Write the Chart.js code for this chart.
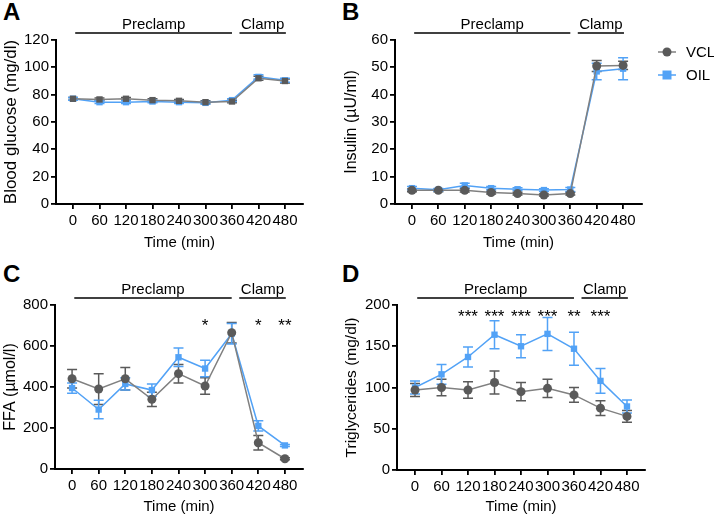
<!DOCTYPE html>
<html>
<head>
<meta charset="utf-8">
<script src="https://cdn.jsdelivr.net/npm/chart.js@4/dist/chart.umd.min.js"></script>
<style>
  body { margin: 0; background: #fff; width: 714px; height: 514px; position: relative; overflow: hidden;
         font-family: "Liberation Sans", Arial, sans-serif; }
  canvas { position: absolute; }
  .letter { position: absolute; font-weight: bold; font-size: 24px; line-height: 24px; color: #000; }
</style>
</head>
<body>
<div class="letter" style="left:3px;top:0px">A</div>
<div class="letter" style="left:342px;top:0px">B</div>
<div class="letter" style="left:3px;top:262px">C</div>
<div class="letter" style="left:342px;top:262px">D</div>

<canvas id="chartA" width="340" height="257" style="left:0;top:0"></canvas>
<canvas id="chartB" width="374" height="257" style="left:340px;top:0"></canvas>
<canvas id="chartC" width="340" height="257" style="left:0;top:257px"></canvas>
<canvas id="chartD" width="374" height="257" style="left:340px;top:257px"></canvas>

<script>
// time points (min)
const timeLabels = [0, 60, 120, 180, 240, 300, 360, 420, 480];
const seriesNames = ['VCL', 'OIL'];

// A - blood glucose (mg/dl)
const glucoseVCL    = [77, 76.5, 77, 76, 75.5, 74.5, 75, 92, 90];
const glucoseVCLErr = [1, 1, 1, 1, 1, 1, 1, 1.5, 1.5];
const glucoseOIL    = [77, 74.5, 74.5, 75, 74.5, 74, 76, 93, 90.5];
const glucoseOILErr = [1, 1, 1, 1, 1, 1, 1, 1.5, 1.5];

// B - insulin (µU/ml)
const insulinVCL    = [5, 5, 5, 4.2, 3.8, 3.3, 3.8, 50.5, 50.7];
const insulinVCLErr = [0.5, 0.5, 0.6, 0.5, 0.5, 0.4, 0.5, 2, 1.5];
const insulinOIL    = [5.8, 5.2, 6.8, 5.8, 5.4, 5.1, 5.3, 48.5, 49.5];
const insulinOILErr = [0.6, 0.5, 0.8, 0.6, 0.5, 0.5, 0.7, 3, 4];

// C - FFA (µmol/l)
const ffaVCL    = [440, 390, 440, 340, 465, 405, 665, 128, 50];
const ffaVCLErr = [45, 75, 55, 35, 45, 40, 50, 35, 5];
const ffaOIL    = [395, 290, 415, 385, 545, 490, 660, 210, 115];
const ffaOILErr = [25, 45, 30, 30, 45, 40, 50, 25, 5];
const ffaStars  = ['', '', '', '', '', '*', '', '*', '**'];

// D - triglycerides (mg/dl)
const tgVCL    = [97, 100, 97, 106, 95, 99, 91, 75, 65];
const tgVCLErr = [8, 10, 10, 14, 11, 11, 9, 9, 7];
const tgOIL    = [100, 116, 137, 164, 150, 165, 147, 108, 77];
const tgOILErr = [8, 12, 12, 17, 14, 20, 20, 15, 8];
const tgStars  = ['', '', '***', '***', '***', '***', '**', '***', ''];

// study periods drawn above each panel
const periods = [
  { label: 'Preclamp', from: 5, to: 360 },
  { label: 'Clamp', from: 377, to: 482 }
];

const GRAY = '#5a5a5a', GRAY_LINE = '#808080', BLUE = '#52a2f6';
const FONT = '"Liberation Sans", Arial, sans-serif';

// error bars, period brackets, significance stars and legend
const extras = {
  id: 'extras',
  beforeDatasetsDraw(chart) {
    const ctx = chart.ctx, y = chart.scales.y;
    ctx.save();
    chart.data.datasets.forEach((ds, i) => {
      const meta = chart.getDatasetMeta(i);
      ctx.strokeStyle = ds.pointBackgroundColor;
      ctx.lineWidth = 1.5;
      meta.data.forEach((pt, j) => {
        const e = ds.errors[j], v = ds.raw[j];
        const y1 = y.getPixelForValue(v + e), y2 = y.getPixelForValue(v - e);
        ctx.beginPath();
        ctx.moveTo(pt.x, y1); ctx.lineTo(pt.x, y2);
        ctx.moveTo(pt.x - 5, y1); ctx.lineTo(pt.x + 5, y1);
        ctx.moveTo(pt.x - 5, y2); ctx.lineTo(pt.x + 5, y2);
        ctx.stroke();
      });
    });
    ctx.restore();
  },
  afterDraw(chart, args, opts) {
    const ctx = chart.ctx, x = chart.scales.x, y = chart.scales.y, area = chart.chartArea;
    ctx.save();
    ctx.fillStyle = '#000';
    ctx.strokeStyle = '#000';
    ctx.lineWidth = 1.5;
    ctx.font = '15px ' + FONT;
    ctx.textAlign = 'center';
    ctx.textBaseline = 'middle';
    periods.forEach(p => {
      const a = x.getPixelForValue(p.from), b = x.getPixelForValue(p.to);
      ctx.beginPath();
      ctx.moveTo(a, area.top - 7); ctx.lineTo(b, area.top - 7);
      ctx.stroke();
      ctx.fillText(p.label, (a + b) / 2, area.top - 15);
    });
    if (opts.stars) {
      ctx.font = '17px ' + FONT;
      opts.stars.forEach((s, j) => {
        if (s) ctx.fillText(s, x.getPixelForValue(timeLabels[j]), y.getPixelForValue(opts.starLevel) + 4);
      });
    }
    if (opts.legend) {
      ctx.textAlign = 'left';
      ctx.font = '15px ' + FONT;
      chart.data.datasets.forEach((ds, i) => {
        const ly = area.top + 12 + i * 23, lx = area.right + 16;
        ctx.strokeStyle = ds.borderColor;
        ctx.lineWidth = 1.5;
        ctx.beginPath(); ctx.moveTo(lx, ly); ctx.lineTo(lx + 18, ly); ctx.stroke();
        ctx.fillStyle = ds.pointBackgroundColor;
        ctx.beginPath();
        if (ds.pointStyle === 'rect') ctx.rect(lx + 9 - 4.5, ly - 4.5, 9, 9);
        else ctx.arc(lx + 9, ly, 4.5, 0, Math.PI * 2);
        ctx.fill();
        ctx.fillStyle = '#000';
        ctx.fillText(ds.label, lx + 28, ly + 1);
      });
    }
    ctx.restore();
  }
};

function makeChart(id, p) {
  const datasets = [
    { label: seriesNames[0], raw: p.vcl, errors: p.vclErr, pointStyle: p.vclStyle || 'circle',
      borderColor: GRAY_LINE, pointBackgroundColor: GRAY, pointBorderColor: GRAY },
    { label: seriesNames[1], raw: p.oil, errors: p.oilErr, pointStyle: 'rect',
      borderColor: BLUE, pointBackgroundColor: BLUE, pointBorderColor: BLUE }
  ].map(d => Object.assign(d, {
    data: d.raw.map((v, j) => ({ x: timeLabels[j], y: v })),
    borderWidth: 1.5, pointRadius: 4.5, pointBorderWidth: 0, tension: 0
  }));

  return new Chart(document.getElementById(id), {
    type: 'line',
    data: { datasets },
    plugins: [extras],
    options: {
      responsive: false,
      animation: false,
      layout: { padding: { left: 0, top: p.padTop, right: p.padRight, bottom: 0 } },
      plugins: {
        legend: { display: false },
        tooltip: { enabled: false },
        extras: { stars: p.stars, starLevel: p.starLevel, legend: p.legend }
      },
      scales: {
        x: {
          type: 'linear', min: p.xMin, max: p.xMax,
          afterBuildTicks: s => { s.ticks = timeLabels.map(v => ({ value: v })); },
          afterFit: s => { s.height = p.xHeight; },
          ticks: { autoSkip: false, maxRotation: 0, color: '#000', padding: 3, font: { family: FONT, size: 15 } },
          grid: { drawOnChartArea: false, color: '#000', lineWidth: 1.8, tickLength: 5 },
          border: { color: '#000', width: 2 },
          title: { display: true, text: 'Time (min)', color: '#000',
                   font: { family: FONT, size: 15, lineHeight: 1 }, padding: { top: 0, bottom: p.xTitlePad } }
        },
        y: {
          min: 0, max: p.yMax,
          afterFit: s => { s.width = p.yWidth; },
          ticks: { stepSize: p.yStep, color: '#000', padding: 2, font: { family: FONT, size: 15 } },
          grid: { drawOnChartArea: false, color: '#000', lineWidth: 1.8, tickLength: 5 },
          border: { color: '#000', width: 2 },
          title: { display: true, text: p.yTitle, color: '#000',
                   font: { family: FONT, size: p.yTitleSize, lineHeight: 1 }, padding: { top: p.yTitlePad, bottom: 0 } }
        }
      }
    }
  });
}

makeChart('chartA', {
  vcl: glucoseVCL, vclErr: glucoseVCLErr, oil: glucoseOIL, oilErr: glucoseOILErr, vclStyle: 'rect',
  yTitle: 'Blood glucose (mg/dl)', yTitleSize: 17, yMax: 120, yStep: 20,
  yWidth: 56, yTitlePad: 3, padTop: 40, padRight: 37, xHeight: 53, xTitlePad: 7,
  xMin: -38.5, xMax: 520.8
});
makeChart('chartB', {
  vcl: insulinVCL, vclErr: insulinVCLErr, oil: insulinOIL, oilErr: insulinOILErr,
  yTitle: 'Insulin (µU/ml)', yTitleSize: 16, yMax: 60, yStep: 10,
  yWidth: 55, yTitlePad: 4, padTop: 40, padRight: 72, xHeight: 53, xTitlePad: 7,
  xMin: -38.6, xMax: 523, legend: true
});
makeChart('chartC', {
  vcl: ffaVCL, vclErr: ffaVCLErr, oil: ffaOIL, oilErr: ffaOILErr,
  yTitle: 'FFA (µmol/l)', yTitleSize: 16, yMax: 800, yStep: 200,
  yWidth: 55, yTitlePad: 3, padTop: 48, padRight: 37, xHeight: 45, xTitlePad: 0,
  xMin: -38.5, xMax: 520.8, stars: ffaStars, starLevel: 715
});
makeChart('chartD', {
  vcl: tgVCL, vclErr: tgVCLErr, oil: tgOIL, oilErr: tgOILErr,
  yTitle: 'Triglycerides (mg/dl)', yTitleSize: 15.5, yMax: 200, yStep: 50,
  yWidth: 57, yTitlePad: 4, padTop: 48, padRight: 69, xHeight: 44, xTitlePad: 0,
  xMin: -40.8, xMax: 520.8, stars: tgStars, starLevel: 190
});
</script>
</body>
</html>
